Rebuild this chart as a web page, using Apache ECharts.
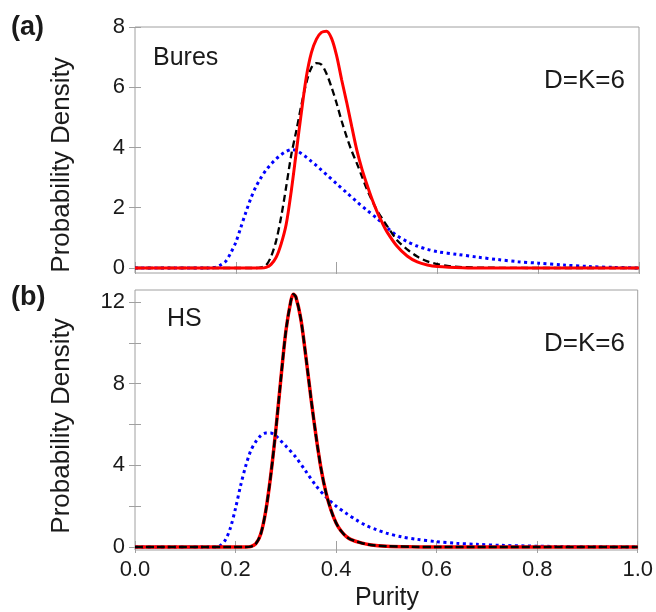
<!DOCTYPE html>
<html><head><meta charset="utf-8">
<script src="https://cdn.jsdelivr.net/npm/echarts@6/dist/echarts.min.js"></script>
<style>html,body{margin:0;padding:0;background:#fff}#c{width:656px;height:612px}</style>
</head><body><div id="c"></div>
<script>
// ---- axis ticks ----
const purityTicks = [0, 0.2, 0.4, 0.6, 0.8, 1.0];
const buresYLabels = [0, 2, 4, 6, 8];
const hsYLabels = [0, 4, 8, 12];
const hsYTicks = [0, 2, 4, 6, 8, 10, 12];

// ---- panel (a) Bures ----
const buresRedX = [0, 0.25, 0.26, 0.27, 0.28, 0.29, 0.30, 0.31, 0.32, 0.33, 0.34, 0.35, 0.36, 0.37, 0.38, 0.39, 0.40, 0.41, 0.42, 0.43, 0.44, 0.45, 0.46, 0.47, 0.48, 0.49, 0.50, 0.52, 0.54, 0.56, 0.58, 0.60, 0.65, 0.70, 0.80, 1.0];
const buresRedY = [0, 0, 0.02, 0.12, 0.35, 0.8, 1.45, 2.55, 3.85, 5.15, 6.35, 7.15, 7.6, 7.82, 7.86, 7.62, 7.05, 6.25, 5.5, 4.7, 3.92, 3.3, 2.78, 2.3, 1.88, 1.52, 1.2, 0.72, 0.4, 0.2, 0.1, 0.05, 0.01, 0, 0, 0];

const buresBlackX = [0, 0.24, 0.25, 0.26, 0.27, 0.28, 0.29, 0.30, 0.31, 0.32, 0.33, 0.34, 0.35, 0.36, 0.37, 0.38, 0.39, 0.40, 0.41, 0.42, 0.43, 0.44, 0.45, 0.46, 0.47, 0.48, 0.49, 0.50, 0.52, 0.54, 0.56, 0.58, 0.60, 0.62, 0.65, 0.70, 0.80, 1.0];
const buresBlackY = [0, 0, 0.02, 0.09, 0.38, 0.9, 1.7, 2.7, 3.75, 4.55, 5.4, 6.15, 6.65, 6.8, 6.75, 6.45, 6.0, 5.47, 4.88, 4.35, 3.88, 3.48, 3.05, 2.62, 2.25, 1.92, 1.65, 1.4, 0.92, 0.62, 0.38, 0.22, 0.13, 0.07, 0.03, 0.01, 0, 0];

const buresBlueX = [0, 0.15, 0.16, 0.17, 0.18, 0.19, 0.20, 0.21, 0.22, 0.23, 0.24, 0.25, 0.26, 0.27, 0.28, 0.29, 0.30, 0.31, 0.32, 0.33, 0.34, 0.35, 0.36, 0.37, 0.38, 0.40, 0.42, 0.44, 0.46, 0.48, 0.50, 0.52, 0.54, 0.56, 0.58, 0.60, 0.64, 0.68, 0.72, 0.76, 0.80, 0.85, 0.90, 0.95, 1.0];
const buresBlueY = [0, 0, 0.03, 0.1, 0.22, 0.5, 0.85, 1.35, 1.85, 2.32, 2.7, 3.0, 3.25, 3.45, 3.62, 3.76, 3.87, 3.93, 3.9, 3.8, 3.68, 3.54, 3.4, 3.25, 3.1, 2.8, 2.5, 2.2, 1.92, 1.65, 1.34, 1.07, 0.88, 0.73, 0.62, 0.54, 0.45, 0.36, 0.28, 0.21, 0.16, 0.1, 0.05, 0.02, 0];

// ---- panel (b) HS ----
const hsX = [0, 0.22, 0.23, 0.24, 0.25, 0.26, 0.27, 0.28, 0.29, 0.30, 0.31, 0.315, 0.32, 0.33, 0.34, 0.35, 0.36, 0.37, 0.38, 0.39, 0.40, 0.41, 0.42, 0.43, 0.45, 0.47, 0.50, 0.55, 0.60, 0.80, 1.0];
const hsRedY = [0, 0, 0.02, 0.15, 0.62, 1.75, 3.5, 5.7, 8.2, 10.55, 12.05, 12.38, 12.25, 11.15, 9.3, 7.3, 5.45, 3.85, 2.65, 1.8, 1.18, 0.78, 0.52, 0.36, 0.2, 0.1, 0.04, 0.01, 0, 0, 0];
const hsBlackY = [0, 0, 0.02, 0.15, 0.62, 1.75, 3.5, 5.7, 8.2, 10.55, 12.05, 12.38, 12.25, 11.15, 9.3, 7.3, 5.45, 3.85, 2.65, 1.8, 1.18, 0.78, 0.52, 0.36, 0.2, 0.1, 0.04, 0.01, 0, 0, 0];

const hsBlueX = [0, 0.16, 0.17, 0.18, 0.19, 0.20, 0.21, 0.22, 0.23, 0.24, 0.25, 0.26, 0.27, 0.28, 0.29, 0.30, 0.32, 0.34, 0.36, 0.38, 0.40, 0.42, 0.44, 0.46, 0.48, 0.50, 0.53, 0.56, 0.60, 0.64, 0.68, 0.73, 0.80, 0.88, 1.0];
const hsBlueY = [0, 0, 0.08, 0.35, 0.95, 1.9, 3.0, 3.95, 4.7, 5.15, 5.45, 5.58, 5.58, 5.45, 5.2, 4.95, 4.4, 3.7, 3.0, 2.45, 2.0, 1.65, 1.33, 1.05, 0.85, 0.68, 0.5, 0.38, 0.26, 0.18, 0.13, 0.08, 0.04, 0.015, 0];

const pair = (xs, ys) => xs.map((x, i) => [x, ys[i]]);

const FONT = '"Liberation Sans", Arial, sans-serif';
const GRAY = '#a0a0a0';
const TXT = '#1a1a1a';

function xAx(grid, pos, labels) {
  return {
    gridIndex: grid, type: 'value', min: 0, max: 1, interval: 0.2, position: pos,
    axisLine: { show: false },
    axisTick: { show: true, inside: true, length: 6, lineStyle: { color: GRAY, width: 1 } },
    axisLabel: { show: labels, fontSize: 22, color: TXT, fontFamily: FONT, margin: 9,
      formatter: v => v.toFixed(1) },
    splitLine: { show: false }
  };
}
function yAx(grid, pos, min, max, labelVals, tickVals) {
  return {
    gridIndex: grid, type: 'value', min: min, max: max, position: pos,
    axisLine: { show: false },
    axisTick: { show: true, inside: true, length: 6, customValues: tickVals, lineStyle: { color: GRAY, width: 1 } },
    axisLabel: { show: !!labelVals, customValues: labelVals || tickVals, fontSize: 22, color: TXT, fontFamily: FONT, margin: 10 },
    splitLine: { show: false }
  };
}
function line(xi, yi, data, color, width, type, z) {
  return {
    type: 'line', xAxisIndex: xi, yAxisIndex: yi, data: data, showSymbol: false, symbol: 'none',
    smooth: 0.3, z: z, silent: true,
    lineStyle: { color: color, width: width, type: type, cap: 'butt' }
  };
}

const chart = echarts.init(document.getElementById('c'), null, { renderer: 'canvas' });
chart.setOption({
  animation: false,
  backgroundColor: '#fff',
  grid: [
    { left: 135, top: 27, width: 504, height: 246, show: true, borderColor: GRAY, borderWidth: 1, backgroundColor: 'transparent' },
    { left: 135, top: 290, width: 504, height: 260, show: true, borderColor: GRAY, borderWidth: 1, backgroundColor: 'transparent' }
  ],
  xAxis: [xAx(0, 'bottom', false), xAx(0, 'top', false), xAx(1, 'bottom', true), xAx(1, 'top', false)],
  yAxis: [
    yAx(0, 'left', -0.166, 8, buresYLabels, buresYLabels),
    yAx(0, 'right', -0.166, 8, null, buresYLabels),
    yAx(1, 'left', -0.147, 12.59, hsYLabels, hsYTicks),
    yAx(1, 'right', -0.147, 12.59, null, hsYTicks)
  ],
  series: [
    line(0, 0, pair(buresBlueX, buresBlueY), '#0000ff', 3, [3, 3.5], 2),
    line(0, 0, pair(buresBlackX, buresBlackY), '#000000', 2.3, [7, 4], 3),
    line(0, 0, pair(buresRedX, buresRedY), '#ff0000', 3, 'solid', 4),
    line(2, 2, pair(hsBlueX, hsBlueY), '#0000ff', 3, [3, 3.5], 2),
    line(2, 2, pair(hsX, hsRedY), '#ff0000', 3.5, 'solid', 3),
    line(2, 2, pair(hsX, hsBlackY), '#000000', 2.5, [8, 3], 4)
  ],
  graphic: [
    { type: 'text', x: 11, y: 28, style: { text: '(a)', font: 'bold 27px ' + FONT, fill: TXT, textVerticalAlign: 'middle' } },
    { type: 'text', x: 11, y: 298, style: { text: '(b)', font: 'bold 27px ' + FONT, fill: TXT, textVerticalAlign: 'middle' } },
    { type: 'text', x: 153, y: 58, style: { text: 'Bures', font: '25px ' + FONT, fill: TXT, textVerticalAlign: 'middle' } },
    { type: 'text', x: 167, y: 319, style: { text: 'HS', font: '25px ' + FONT, fill: TXT, textVerticalAlign: 'middle' } },
    { type: 'text', x: 625, y: 81, style: { text: 'D=K=6', font: '26px ' + FONT, fill: TXT, textAlign: 'right', textVerticalAlign: 'middle' } },
    { type: 'text', x: 625, y: 344, style: { text: 'D=K=6', font: '26px ' + FONT, fill: TXT, textAlign: 'right', textVerticalAlign: 'middle' } },
    { type: 'text', x: 387, y: 598, style: { text: 'Purity', font: '25px ' + FONT, fill: TXT, textAlign: 'center', textVerticalAlign: 'middle' } },
    { type: 'text', x: 62, y: 165, rotation: Math.PI / 2, style: { text: 'Probability Density', font: '26px ' + FONT, fill: TXT, textAlign: 'center', textVerticalAlign: 'middle' } },
    { type: 'text', x: 62, y: 426, rotation: Math.PI / 2, style: { text: 'Probability Density', font: '26px ' + FONT, fill: TXT, textAlign: 'center', textVerticalAlign: 'middle' } }
  ]
});
</script>
</body></html>
